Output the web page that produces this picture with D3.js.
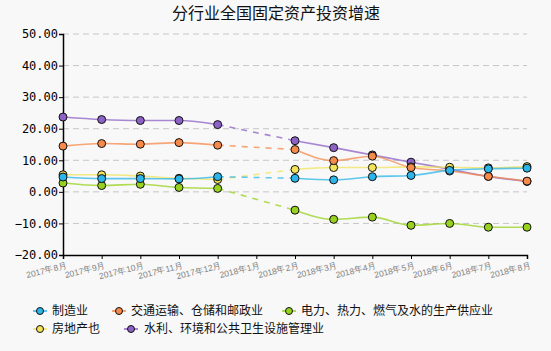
<!DOCTYPE html>
<html>
<head>
<meta charset="utf-8">
<script src="https://cdn.jsdelivr.net/npm/d3@7"></script>
<style>
  body { margin: 0; background: #f8f8f8; }
  svg { display: block; }
</style>
</head>
<body>
<div id="chart"></div>
<script>
var months = ['2017年8月', '2017年9月', '2017年10月', '2017年11月', '2017年12月', '2018年1月',
  '2018年2月', '2018年3月', '2018年4月', '2018年5月', '2018年6月', '2018年7月', '2018年8月'];
var yTicks = [-20, -10, 0, 10, 20, 30, 40, 50];

// null = no value for that month (January)
var manufacturing = [4.7, 4.2, 4.2, 4.1, 4.8, null, 4.3, 3.8, 4.8, 5.2, 6.8, 7.3, 7.5];
var transport = [14.5, 15.3, 15.1, 15.6, 14.8, null, 13.4, 9.9, 11.3, 7.7, 6.6, 4.9, 3.4];
var power = [2.8, 2.0, 2.4, 1.4, 1.1, null, -5.8, -8.7, -8.0, -10.6, -10.0, -11.2, -11.2];
var realEstate = [5.4, 5.4, 5.0, 4.3, 3.9, null, 7.1, 7.7, 7.7, 7.9, 7.8, 7.6, 8.0];
var utilities = [23.7, 22.9, 22.6, 22.6, 21.3, null, 16.2, 14.0, 11.7, 9.4, 7.2, 4.9, 3.3];

var seriesNames = ['制造业', '交通运输、仓储和邮政业', '电力、热力、燃气及水的生产供应业', '房地产也', '水利、环境和公共卫生设施管理业'];
var seriesValues = [manufacturing, transport, power, realEstate, utilities];
var seriesColors = ['#2bb5ea', '#f58a4b', '#98d21e', '#f2e35a', '#8c62c6'];

var width = 551, height = 351;
var margin = { left: 63, right: 24, top: 34, bottom: 96 };

var svg = d3.select('#chart').append('svg')
  .attr('width', width)
  .attr('height', height)
  .style('font-family', '"Noto Sans CJK SC", sans-serif');

svg.append('rect').attr('width', width).attr('height', height).attr('fill', '#f8f8f8');

var x = d3.scalePoint()
  .domain(months)
  .range([margin.left, width - margin.right]);

var y = d3.scaleLinear()
  .domain([-20, 50])
  .range([height - margin.bottom, margin.top]);

// title
svg.append('text')
  .attr('x', 276)
  .attr('y', 19)
  .attr('text-anchor', 'middle')
  .attr('font-size', '16px')
  .attr('fill', '#111')
  .text('分行业全国固定资产投资增速');

// grid lines
svg.append('g')
  .selectAll('line')
  .data(yTicks.filter(d => d > -20))
  .enter().append('line')
  .attr('x1', margin.left)
  .attr('x2', width - margin.right)
  .attr('y1', d => y(d))
  .attr('y2', d => y(d))
  .attr('stroke', '#c6c6c6')
  .attr('stroke-dasharray', '6,4');

// y axis
var yAxis = svg.append('g')
  .attr('transform', 'translate(' + margin.left + ',0)')
  .call(d3.axisLeft(y).tickValues(yTicks).tickFormat(d3.format('.2f')).tickSizeOuter(0).tickSize(4));
yAxis.select('.domain').attr('stroke', '#000').attr('stroke-width', 1.5);
yAxis.selectAll('text')
  .attr('font-family', '"DejaVu Sans Mono", monospace')
  .attr('font-size', '12px')
  .attr('fill', '#000')
  .attr('x', -5);

// x axis
var xAxis = svg.append('g')
  .attr('transform', 'translate(0,' + y(-20) + ')')
  .call(d3.axisBottom(x).tickSizeOuter(0).tickSize(4));
xAxis.select('.domain').attr('stroke', '#000').attr('stroke-width', 1.5);
xAxis.selectAll('text')
  .attr('font-size', '8.5px')
  .attr('fill', '#808080')
  .attr('text-anchor', 'end')
  .attr('dy', 0)
  .attr('y', 0)
  .attr('transform', 'translate(4,13) rotate(-14)');

// lines and points, drawn last series first
var line = d3.line()
  .defined(d => d.v !== null)
  .x(d => x(d.m))
  .y(d => y(d.v))
  .curve(d3.curveMonotoneX);

var order = [4, 3, 2, 1, 0];
order.forEach(function (s) {
  var pts = months.map((m, i) => ({ m: m, v: seriesValues[s][i] }));
  var g = svg.append('g');
  g.append('path')
    .datum(pts)
    .attr('d', line)
    .attr('fill', 'none')
    .attr('stroke', seriesColors[s])
    .attr('stroke-opacity', 0.75)
    .attr('stroke-width', 1.6);
  // dashed gap over the missing month
  var gap = [pts[4], pts[6]];
  g.append('path')
    .datum(gap)
    .attr('d', d3.line().x(d => x(d.m)).y(d => y(d.v)))
    .attr('fill', 'none')
    .attr('stroke', seriesColors[s])
    .attr('stroke-opacity', 0.75)
    .attr('stroke-width', 1.6)
    .attr('stroke-dasharray', '6,6');
  g.selectAll('circle')
    .data(pts.filter(d => d.v !== null))
    .enter().append('circle')
    .attr('cx', d => x(d.m))
    .attr('cy', d => y(d.v))
    .attr('r', 4)
    .attr('fill', seriesColors[s])
    .attr('stroke', '#111')
    .attr('stroke-width', 1);
});

// legend
var legendPos = [[40, 311], [119, 311], [289, 311], [40, 329], [131, 329]];
var legend = svg.selectAll('.legend')
  .data(seriesNames)
  .enter().append('g')
  .attr('class', 'legend')
  .attr('transform', (d, i) => 'translate(' + legendPos[i][0] + ',' + legendPos[i][1] + ')');

legend.append('line')
  .attr('x1', -7).attr('x2', 7)
  .attr('stroke', (d, i) => seriesColors[i])
  .attr('stroke-width', 1.5);

legend.append('circle')
  .attr('r', 3.5)
  .attr('fill', (d, i) => seriesColors[i])
  .attr('stroke', '#111')
  .attr('stroke-width', 1);

legend.append('text')
  .attr('x', (d, i) => i === 4 ? 13 : 12)
  .attr('y', 0)
  .attr('dy', '0.36em')
  .attr('font-size', '12px')
  .attr('fill', '#111')
  .text(d => d);
</script>
</body>
</html>
